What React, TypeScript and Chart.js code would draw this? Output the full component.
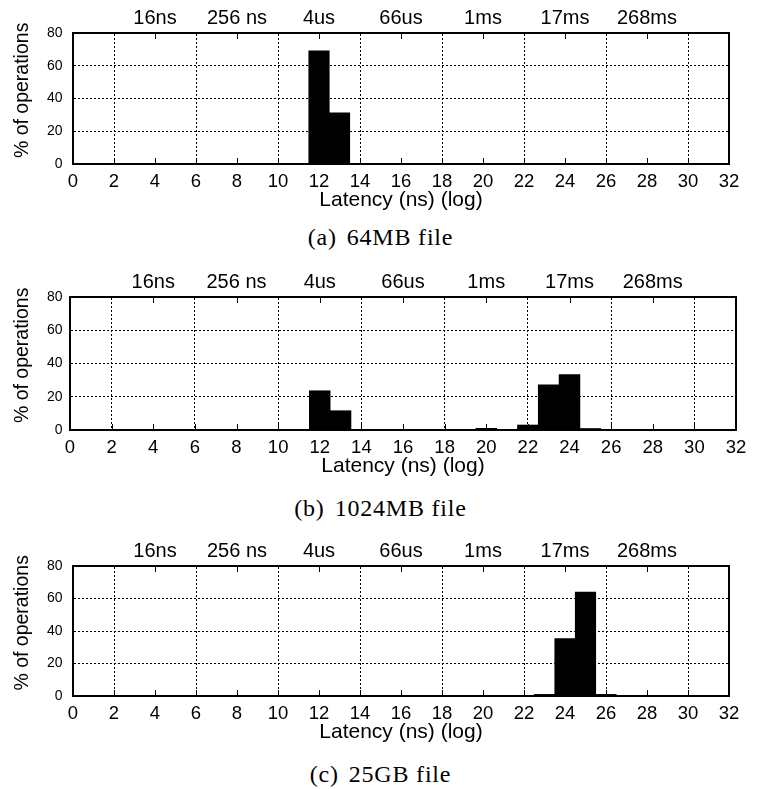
import React, { useEffect, useRef } from "react";
import { Chart, registerables } from "chart.js";

Chart.register(...registerables);

// ---- data ----
const bins = [1, 2, 3, 4, 5, 6, 7, 8, 9, 10, 11, 12, 13, 14, 15, 16, 17, 18, 19, 20, 21, 22, 23, 24, 25, 26, 27, 28, 29, 30, 31];
//                  1  2  3  4  5  6  7  8  9 10 11  12    13    14   15   16   17   18   19   20   21   22   23    24    25   26   27 28 29 30 31
const file64MB =   [0, 0, 0, 0, 0, 0, 0, 0, 0, 0, 0, 69.1, 31.2, 0.2, 0,   0,   0,   0,   0,   0,   0,   0,   0,    0,    0,   0,   0, 0, 0, 0, 0];
const file1024MB = [0, 0, 0, 0, 0, 0, 0, 0, 0, 0, 0, 23.6, 11.6, 0.2, 0.1, 0.3, 0.1, 0.1, 0.2, 1.0, 0.1, 3.0, 27.1, 33.3, 0.9, 0.1, 0, 0, 0, 0, 0];
const file25GB =   [0, 0, 0, 0, 0, 0, 0, 0, 0, 0, 0, 0,    0,    0,   0,   0,   0,   0,   0,   0,   0,   0,   1.0,  35.4, 63.9, 1.0, 0, 0, 0, 0, 0];

const bottomTicks = [0, 2, 4, 6, 8, 10, 12, 14, 16, 18, 20, 22, 24, 26, 28, 30, 32];
const topTickValues = [4, 8, 12, 16, 20, 24, 28];
const topTickLabels = ["16ns", "256 ns", "4us", "66us", "1ms", "17ms", "268ms"];
const yTicks = [0, 20, 40, 60, 80];
const yTitle = "   % of operations";
const xTitle = "Latency (ns) (log)";
const captionTags = ["(a)", "(b)", "(c)"];
const captionTexts = ["64MB file", "1024MB file", "25GB file"];

const SANS = "'Liberation Sans', Arial, Helvetica, sans-serif";
const SERIF = "'Liberation Serif', 'Times New Roman', serif";
const W = 758;
const TOP_H = 33;
const BOTTOM_H = 49;

type Geo = { canvasTop: number; plotBottom: number; left: number; right: number; captionBaseline: number };

const geos: Geo[] = [
  { canvasTop: 0, plotBottom: 164, left: 73, right: 729, captionBaseline: 245 },
  { canvasTop: 264, plotBottom: 430, left: 70, right: 736, captionBaseline: 516 },
  { canvasTop: 533, plotBottom: 696, left: 73, right: 729, captionBaseline: 782 },
];

const innerTicks = {
  id: "innerTicks",
  afterDatasetsDraw(chart: any) {
    const { ctx, chartArea } = chart;
    const sx = chart.scales.x;
    const sx2 = chart.scales.x2;
    ctx.save();
    ctx.strokeStyle = "#000";
    ctx.lineWidth = 1;
    ctx.beginPath();
    bottomTicks.forEach((v) => {
      if (v <= 0 || v >= 32) return;
      const px = Math.round(sx.getPixelForValue(v)) + 0.5;
      ctx.moveTo(px, chartArea.bottom);
      ctx.lineTo(px, chartArea.bottom - 6);
    });
    topTickValues.forEach((v) => {
      const px = Math.round(sx2.getPixelForValue(v)) + 0.5;
      ctx.moveTo(px, chartArea.top);
      ctx.lineTo(px, chartArea.top + 6);
    });
    ctx.stroke();
    ctx.restore();
  },
};

function Panel({ values, geo, idx }: { values: number[]; geo: Geo; idx: number }) {
  const ref = useRef<HTMLCanvasElement>(null);
  const plotBottomRel = geo.plotBottom - geo.canvasTop;
  const height = plotBottomRel + BOTTOM_H;

  useEffect(() => {
    const chart = new Chart(ref.current as HTMLCanvasElement, {
      type: "bar",
      data: {
        datasets: [
          {
            data: bins.map((b, i) => ({ x: b, y: values[i] })),
            backgroundColor: "#000",
            borderWidth: 0,
            barPercentage: 1,
            categoryPercentage: 1,
            xAxisID: "x",
            yAxisID: "y",
          } as any,
        ],
      },
      options: {
        responsive: false,
        animation: false,
        devicePixelRatio: 1,
        layout: { padding: 0 },
        plugins: {
          legend: { display: false },
          tooltip: { enabled: false },
          title: { display: false },
        },
        scales: {
          x: {
            type: "linear",
            position: "bottom",
            min: 0,
            max: 32,
            offset: false,
            z: 1,
            afterBuildTicks: (s: any) => {
              s.ticks = bottomTicks.map((v) => ({ value: v }));
            },
            ticks: {
              autoSkip: false,
              maxRotation: 0,
              padding: 6.5,
              color: "#000",
              font: { family: SANS, size: 18.5 },
              callback: (v: any) => String(v),
            },
            grid: { display: true, drawOnChartArea: false, drawTicks: false },
            border: { display: true, color: "#000", width: 2 },
            title: {
              display: true,
              text: xTitle,
              color: "#000",
              font: { family: SANS, size: 21 },
              padding: 0,
            },
            afterFit: (s: any) => {
              s.height = BOTTOM_H;
            },
          },
          x2: {
            type: "linear",
            position: "top",
            min: 0,
            max: 32,
            offset: false,
            afterBuildTicks: (s: any) => {
              s.ticks = topTickValues.map((v) => ({ value: v }));
            },
            ticks: {
              autoSkip: false,
              maxRotation: 0,
              padding: 3,
              color: "#000",
              font: { family: SANS, size: 20 },
              callback: (v: any) => {
                const k = topTickValues.indexOf(Number(v));
                return k >= 0 ? topTickLabels[k] : "";
              },
            },
            grid: { display: true, drawOnChartArea: true, drawTicks: false, color: "#000", lineWidth: 1 },
            border: { display: true, color: "#000", width: 2, dash: [2, 2] },
            afterFit: (s: any) => {
              s.height = TOP_H;
            },
          },
          y: {
            type: "linear",
            position: "left",
            min: 0,
            max: 80,
            afterBuildTicks: (s: any) => {
              s.ticks = yTicks.map((v) => ({ value: v }));
            },
            ticks: {
              padding: geo.left - 62.5,
              color: "#000",
              font: { family: SANS, size: 14 },
              callback: (v: any) => String(v),
            },
            grid: {
              display: true,
              drawTicks: false,
              lineWidth: 1,
              color: (c: any) => (c.tick && (c.tick.value === 0 || c.tick.value === 80) ? "rgba(0,0,0,0)" : "#000"),
            },
            border: { display: true, color: "#000", width: 2, dash: [2, 2] },
            title: {
              display: true,
              text: yTitle,
              color: "#000",
              font: { family: SANS, size: 19.5 },
              padding: { top: 11, bottom: 0 },
            },
            afterFit: (s: any) => {
              s.width = geo.left;
            },
          },
          y2: {
            type: "linear",
            position: "right",
            display: true,
            min: 0,
            max: 80,
            ticks: { display: false },
            grid: { display: false, drawTicks: false, drawOnChartArea: false },
            border: { display: true, color: "#000", width: 2 },
            afterFit: (s: any) => {
              s.width = W - geo.right;
            },
          },
        },
      } as any,
      plugins: [innerTicks],
    });
    return () => chart.destroy();
  }, []);

  return (
    <>
      <canvas
        ref={ref}
        width={W}
        height={height}
        style={{ position: "absolute", left: 0, top: geo.canvasTop, width: W, height }}
      />
      <div
        style={{
          position: "absolute",
          left: 0,
          width: 761,
          top: geo.captionBaseline - 20.1,
          fontFamily: SERIF,
          fontSize: 24,
          lineHeight: "24px",
          letterSpacing: "0.8px",
          textAlign: "center",
          whiteSpace: "nowrap",
          color: "#000",
        }}
      >
        <span>{captionTags[idx]}</span>
        <span style={{ marginLeft: 10 }}>{captionTexts[idx]}</span>
      </div>
    </>
  );
}

export default function App() {
  const series = [file64MB, file1024MB, file25GB];
  return (
    <div style={{ position: "absolute", left: 0, top: 0, width: W, height: 789, background: "#fff" }}>
      {series.map((vals, i) => (
        <Panel key={i} values={vals} geo={geos[i]} idx={i} />
      ))}
    </div>
  );
}
